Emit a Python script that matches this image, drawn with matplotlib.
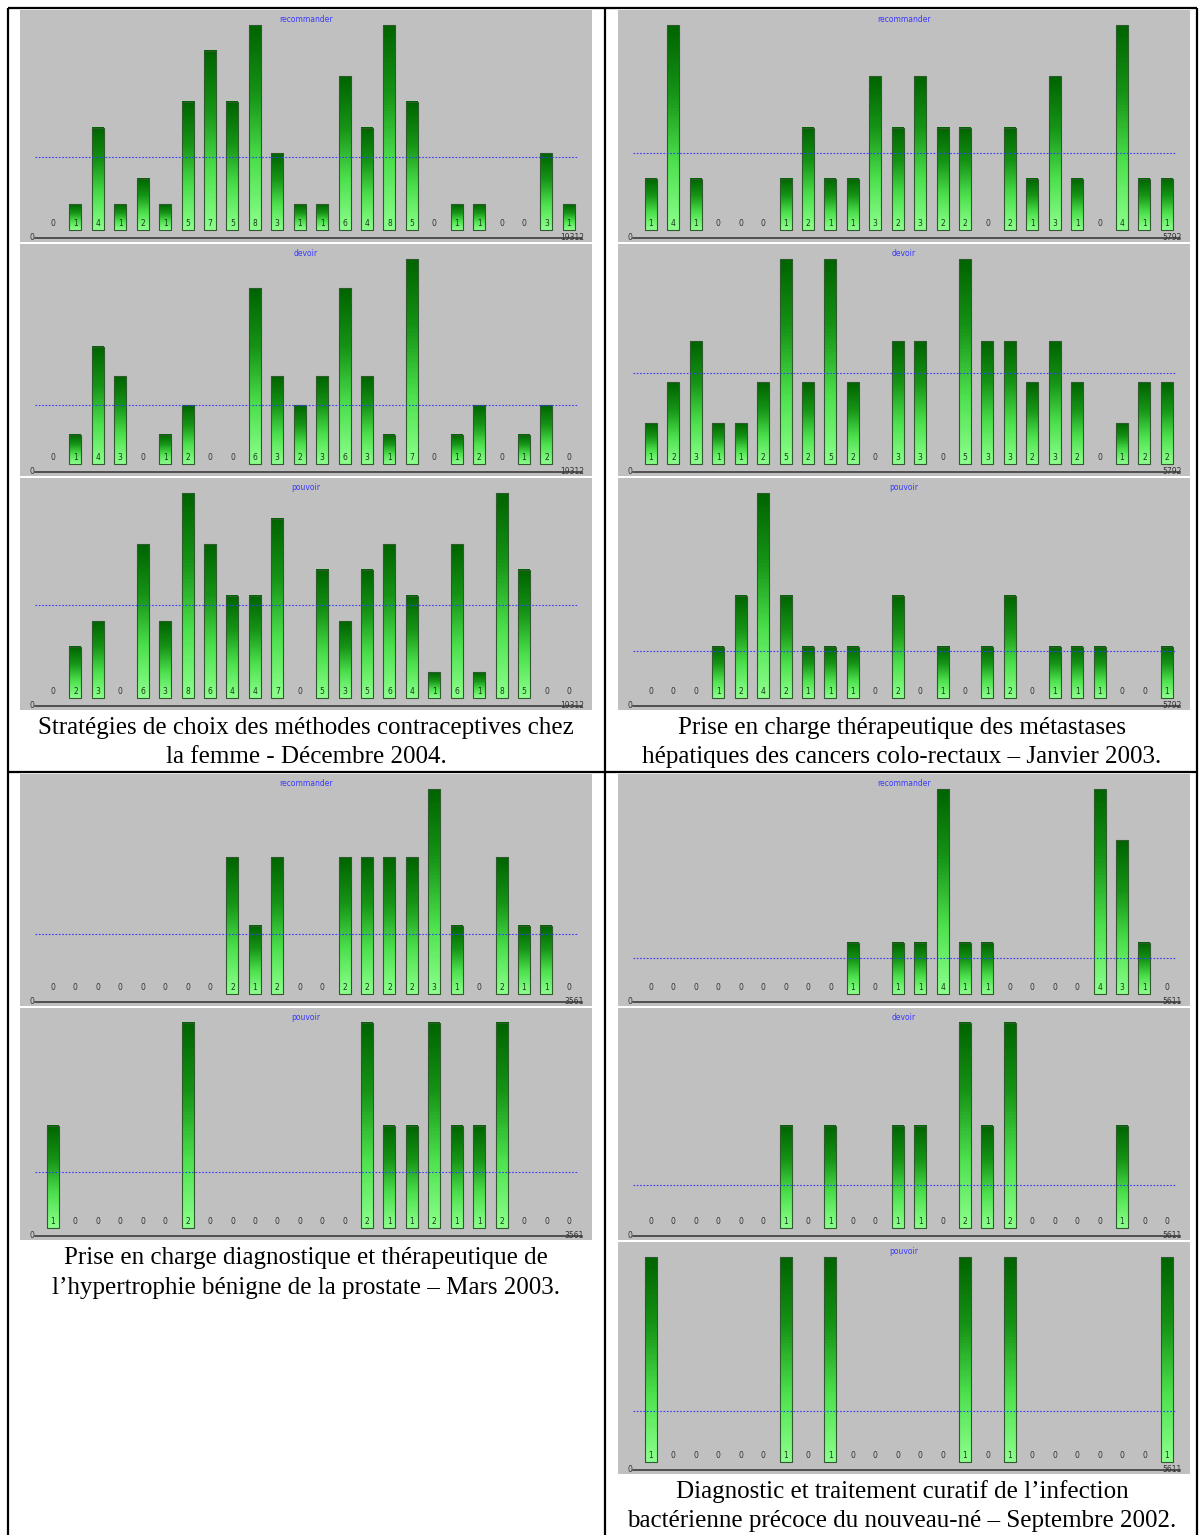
import numpy as np
import matplotlib
matplotlib.use("Agg")
import matplotlib.pyplot as plt
from matplotlib.colors import LinearSegmentedColormap

# --- data ------------------------------------------------------------------
contra_recommander = [0, 1, 4, 1, 2, 1, 5, 7, 5, 8, 3, 1, 1, 6, 4, 8, 5, 0, 1, 1, 0, 0, 3, 1]
contra_devoir = [0, 1, 4, 3, 0, 1, 2, 0, 0, 6, 3, 2, 3, 6, 3, 1, 7, 0, 1, 2, 0, 1, 2, 0]
contra_pouvoir = [0, 2, 3, 0, 6, 3, 8, 6, 4, 4, 7, 0, 5, 3, 5, 6, 4, 1, 6, 1, 8, 5, 0, 0]

meta_recommander = [1, 4, 1, 0, 0, 0, 1, 2, 1, 1, 3, 2, 3, 2, 2, 0, 2, 1, 3, 1, 0, 4, 1, 1]
meta_devoir = [1, 2, 3, 1, 1, 2, 5, 2, 5, 2, 0, 3, 3, 0, 5, 3, 3, 2, 3, 2, 0, 1, 2, 2]
meta_pouvoir = [0, 0, 0, 1, 2, 4, 2, 1, 1, 1, 0, 2, 0, 1, 0, 1, 2, 0, 1, 1, 1, 0, 0, 1]

prostate_recommander = [0, 0, 0, 0, 0, 0, 0, 0, 2, 1, 2, 0, 0, 2, 2, 2, 2, 3, 1, 0, 2, 1, 1, 0]
prostate_pouvoir = [1, 0, 0, 0, 0, 0, 2, 0, 0, 0, 0, 0, 0, 0, 2, 1, 1, 2, 1, 1, 2, 0, 0, 0]

nn_recommander = [0, 0, 0, 0, 0, 0, 0, 0, 0, 1, 0, 1, 1, 4, 1, 1, 0, 0, 0, 0, 4, 3, 1, 0]
nn_devoir = [0, 0, 0, 0, 0, 0, 1, 0, 1, 0, 0, 1, 1, 0, 2, 1, 2, 0, 0, 0, 0, 1, 0, 0]
nn_pouvoir = [1, 0, 0, 0, 0, 0, 1, 0, 1, 0, 0, 0, 0, 0, 1, 0, 1, 0, 0, 0, 0, 0, 0, 1]

totals = {"contra": "19312", "meta": "5792", "prostate": "3561", "nn": "5611"}

captions = {
    "contra": ["Stratégies de choix des méthodes contraceptives chez",
               "la femme - Décembre 2004."],
    "meta": ["Prise en charge thérapeutique des métastases",
             "hépatiques des cancers colo-rectaux – Janvier 2003."],
    "prostate": ["Prise en charge diagnostique et thérapeutique de",
                 "l’hypertrophie bénigne de la prostate – Mars 2003."],
    "nn": ["Diagnostic et traitement curatif de l’infection",
           "bactérienne précoce du nouveau-né – Septembre 2002."],
}

W, H = 1200, 1535
fig = plt.figure(figsize=(W / 100, H / 100), dpi=100)
fig.patch.set_facecolor("white")


def box(x, y, w, h):
    return [x / W, 1 - (y + h) / H, w / W, h / H]


# background axes in pixel coordinates for table lines and captions
bg = fig.add_axes([0, 0, 1, 1])
bg.set_xlim(0, W)
bg.set_ylim(H, 0)
bg.axis("off")

lw = 1.6
for xv in [8, 605, 1197]:
    bg.plot([xv, xv], [8, H], color="black", lw=lw, solid_capstyle="butt")
for yv in [8, 772]:
    bg.plot([8, 1197], [yv, yv], color="black", lw=lw, solid_capstyle="butt")

grad_cmap = LinearSegmentedColormap.from_list(
    "bar", ["#8cff8c", "#4ce04c", "#169416", "#006400"])
grad = np.linspace(0, 1, 64).reshape(-1, 1)

PANEL_W, PANEL_H = 572, 232
SPACING = 22.43          # pixels between bar centres
FIRST = 33               # first bar centre from panel left (px)
BASE = 12                # baseline above panel bottom (px)
SCALE = 205              # pixels for the tallest bar


def draw_panel(x0, y0, title, values, total):
    ax = fig.add_axes(box(x0, y0, PANEL_W, PANEL_H))
    ax.set_facecolor("#c0c0c0")
    for s in ax.spines.values():
        s.set_visible(False)
    ax.set_xticks([])
    ax.set_yticks([])

    vals = np.array(values)
    vmax = vals.max()
    u = vmax / SCALE                     # data units per pixel
    idx = np.arange(len(vals))
    bw = 12 / SPACING

    for i, v in zip(idx, vals):
        if v > 0:
            ax.imshow(grad, cmap=grad_cmap, aspect="auto", origin="lower",
                      extent=[i - bw / 2, i + bw / 2, 0, v], zorder=2)
            ax.text(i, 6 * u, str(v), ha="center", va="center",
                    fontsize=5.5, color="#1c3c1c", zorder=4)
        else:
            ax.text(i, 6 * u, "0", ha="center", va="center",
                    fontsize=5.5, color="#333333", zorder=4)
    ax.bar(idx[vals > 0], vals[vals > 0], width=bw, facecolor="none",
           edgecolor="#2e5a2e", linewidth=0.8, zorder=3)

    # mean line
    x_left = (15 - FIRST) / SPACING
    x_right = (558 - FIRST) / SPACING
    ax.plot([x_left, x_right], [vals.mean()] * 2, color="#3a3aff",
            lw=0.8, ls=(0, (1.5, 1.5)), zorder=5)

    # axis line and end labels
    ya = -8 * u
    ax.plot([x_left, (562 - FIRST) / SPACING], [ya, ya], color="#303030",
            lw=1.1, zorder=5)
    ax.text(x_left - 0.05, ya, "0", ha="right", va="center", fontsize=5.5,
            color="#333333")
    ax.text((564 - FIRST) / SPACING, ya, total, ha="right", va="center",
            fontsize=5.5, color="#333333", zorder=6)

    ax.text(0.5, 1 - 10 / PANEL_H, title, transform=ax.transAxes,
            ha="center", va="center", fontsize=5.5, color="#3a3aff")

    ax.set_xlim(-FIRST / SPACING, (PANEL_W - FIRST) / SPACING)
    ax.set_ylim(-BASE * u, (PANEL_H - BASE) * u)


top_rows = [10, 244, 478]
bot_rows = [774, 1008, 1242]

draw_panel(20, top_rows[0], "recommander", contra_recommander, totals["contra"])
draw_panel(20, top_rows[1], "devoir", contra_devoir, totals["contra"])
draw_panel(20, top_rows[2], "pouvoir", contra_pouvoir, totals["contra"])

draw_panel(618, top_rows[0], "recommander", meta_recommander, totals["meta"])
draw_panel(618, top_rows[1], "devoir", meta_devoir, totals["meta"])
draw_panel(618, top_rows[2], "pouvoir", meta_pouvoir, totals["meta"])

draw_panel(20, bot_rows[0], "recommander", prostate_recommander, totals["prostate"])
draw_panel(20, bot_rows[1], "pouvoir", prostate_pouvoir, totals["prostate"])

draw_panel(618, bot_rows[0], "recommander", nn_recommander, totals["nn"])
draw_panel(618, bot_rows[1], "devoir", nn_devoir, totals["nn"])
draw_panel(618, bot_rows[2], "pouvoir", nn_pouvoir, totals["nn"])

# captions
cap_font = dict(family=["Liberation Serif", "DejaVu Serif"], fontsize=18,
                color="black", ha="center", va="center")
for key, cx, ys in [("contra", 306, (728, 757)), ("meta", 902, (728, 757)),
                    ("prostate", 306, (1258, 1288)), ("nn", 902, (1492, 1521))]:
    for line, yy in zip(captions[key], ys):
        bg.text(cx, yy, line, **cap_font)

fig.savefig("out.png", dpi=100)
